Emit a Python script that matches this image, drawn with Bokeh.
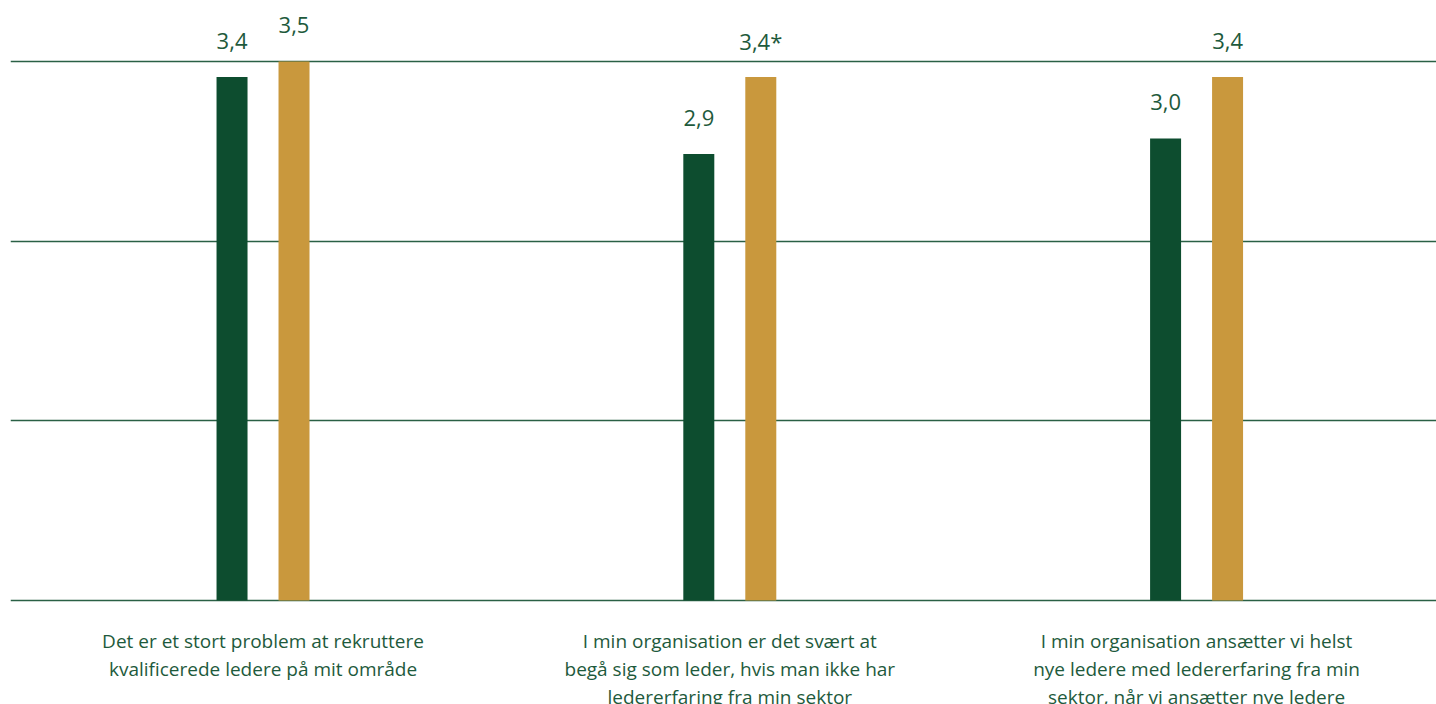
from bokeh.plotting import figure
from bokeh.models import ColumnDataSource, Range1d, FixedTicker
from bokeh.transform import dodge
from bokeh.core.properties import value
from bokeh.embed import file_html
from bokeh.resources import INLINE

categories = [
    "Det er et stort problem at rekruttere\nkvalificerede ledere på mit område",
    "I min organisation er det svært at\nbegå sig som leder, hvis man ikke har\nledererfaring fra min sektor",
    "I min organisation ansætter vi helst\nnye ledere med ledererfaring fra min\nsektor, når vi ansætter nye ledere",
]
series_green = [3.4, 2.9, 3.0]
series_gold = [3.5, 3.4, 3.4]
labels_green = ["3,4", "2,9", "3,0"]
labels_gold = ["3,5", "3,4*", "3,4"]
grid_ticks = [0, 3.5 / 3, 7 / 3, 3.5]

GREEN = "#0d4d2f"
GOLD = "#c9983d"
TEXT = "#1e5a3c"
FONT = "Open Sans"

idx = list(range(len(categories)))
src = ColumnDataSource(dict(x=idx, cat=categories, g=series_green, o=series_gold,
                            lg=labels_green, lo=labels_gold, zero=[0] * len(idx)))

p = figure(width=1436, height=704, output_backend="svg", toolbar_location=None,
           x_range=Range1d(-0.541, 2.514), y_range=Range1d(-0.675, 3.896),
           min_border_left=10, min_border_right=0, min_border_top=0, min_border_bottom=0)
p.outline_line_color = None
p.background_fill_color = "white"
p.border_fill_color = "white"
for ax in p.axis:
    ax.visible = False
p.xgrid.visible = False
p.ygrid.ticker = FixedTicker(ticks=grid_ticks)
p.ygrid.grid_line_color = "#2a6045"
p.ygrid.grid_line_width = 1.5

off = 0.0664
bw = 0.0664
p.vbar(x=dodge("x", -off, range=p.x_range), top="g", bottom=0, width=bw, source=src,
       fill_color=GREEN, line_color=None)
p.vbar(x=dodge("x", off, range=p.x_range), top="o", bottom=0, width=bw, source=src,
       fill_color=GOLD, line_color=None)

p.text(x=dodge("x", -off, range=p.x_range), y="g", text="lg", source=src,
       y_offset=-36, text_align="center", text_baseline="alphabetic",
       text_font=value(FONT), text_font_size="22px", text_color=TEXT)
p.text(x=dodge("x", off, range=p.x_range), y="o", text="lo", source=src,
       y_offset=-36, text_align="center", text_baseline="alphabetic",
       text_font=value(FONT), text_font_size="22px", text_color=TEXT)

p.text(x="x", y="zero", text="cat", source=src, y_offset=27, text_align="center",
       text_baseline="top", text_font=value(FONT), text_font_size="19px",
       text_color=TEXT, text_line_height=1.08)

open("out.html", "w").write(file_html(p, INLINE))
